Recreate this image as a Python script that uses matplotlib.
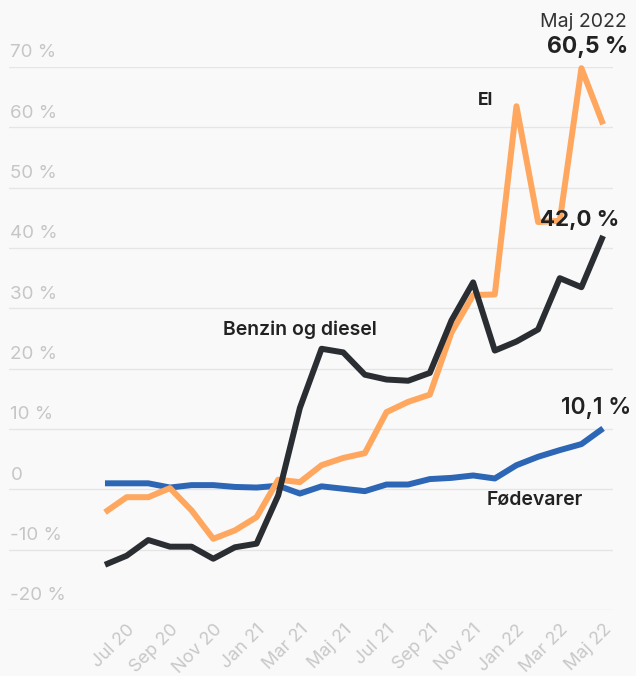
import matplotlib.pyplot as plt
import matplotlib.transforms as mtransforms

plt.rcParams['font.family'] = ['Inter', 'DejaVu Sans']

# monthly values, Jun 2020 .. May 2022
months = ['Jun 20', 'Jul 20', 'Aug 20', 'Sep 20', 'Okt 20', 'Nov 20', 'Dec 20',
          'Jan 21', 'Feb 21', 'Mar 21', 'Apr 21', 'Maj 21', 'Jun 21', 'Jul 21',
          'Aug 21', 'Sep 21', 'Okt 21', 'Nov 21', 'Dec 21', 'Jan 22', 'Feb 22',
          'Mar 22', 'Apr 22', 'Maj 22']

el = [-3.8, -1.3, -1.3, 0.2, -3.5, -8.2, -6.8, -4.6, 1.6, 1.2, 4.0, 5.2,
      6.0, 12.8, 14.5, 15.7, 26.0, 32.2, 32.3, 63.5, 44.3, 44.5, 69.8, 60.5]
benzin = [-12.5, -11.0, -8.4, -9.5, -9.5, -11.5, -9.6, -9.0, -1.0, 13.5, 23.3, 22.7,
          19.0, 18.2, 18.0, 19.3, 28.0, 34.3, 23.0, 24.5, 26.5, 35.0, 33.5, 42.0]
foedevarer = [1.0, 1.0, 1.0, 0.3, 0.7, 0.7, 0.4, 0.3, 0.6, -0.7, 0.5, 0.1,
              -0.3, 0.8, 0.8, 1.7, 1.9, 2.3, 1.8, 4.0, 5.4, 6.5, 7.5, 10.1]

yticks = [-20, -10, 0, 10, 20, 30, 40, 50, 60, 70]
ytick_labels = ['-20 %', '-10 %', '0', '10 %', '20 %', '30 %', '40 %', '50 %', '60 %', '70 %']

bg = '#f9f9f9'
c_el = '#ffa75e'
c_benzin = '#2a2e33'
c_food = '#2d66b5'

fig = plt.figure(figsize=(6.36, 6.76), dpi=100, facecolor=bg)
ax = fig.add_axes([0.0142, 0.0976, 0.9497, 0.8033], facecolor=bg)

x = list(range(len(months)))
kw = dict(lw=4.3, solid_joinstyle='round', solid_capstyle='butt', clip_on=False)
ax.plot(x, foedevarer, color=c_food, **kw)
ax.plot(x, el, color=c_el, **kw)
ax.plot(x, benzin, color=c_benzin, **kw)

ax.set_xlim(-4.43, 23.46)
ax.set_ylim(-20, 70)
ax.set_yticks(yticks)
ax.set_yticklabels([])
ax.grid(axis='y', color='#e5e5e5', lw=1)
ax.set_axisbelow(True)
for s in ax.spines.values():
    s.set_visible(False)
ax.tick_params(length=0)

# y labels sit above the gridlines, inside the plot
trans = mtransforms.blended_transform_factory(ax.transAxes, ax.transData)
for v, lab in zip(yticks, ytick_labels):
    ax.annotate(lab, xy=(0, v), xycoords=trans, xytext=(1, 7), textcoords='offset points',
                ha='left', va='baseline', fontsize=13.5, color='#c6c6c6')

xt = list(range(1, len(months), 2))
ax.set_xticks(xt)
ax.set_xticklabels([months[i] for i in xt], rotation=45, ha='right',
                   rotation_mode='anchor', fontsize=13, color='#c8c8c8')
ax.tick_params(axis='x', pad=8)

# annotations
ax.text(22.1, 77.4, 'Maj 2022', ha='center', va='center', fontsize=14, color='#333333')
ax.text(22.3, 73.3, '60,5 %', ha='center', va='center', fontsize=16.5, fontweight='bold',
        color='#222222')
ax.text(17.55, 64.5, 'El', ha='center', va='center', fontsize=12.5, fontweight='bold',
        color='#222222')
ax.text(23.75, 44.6, '42,0 %', ha='right', va='center', fontsize=16, fontweight='bold',
        color='#222222')
ax.text(22.7, 13.4, '10,1 %', ha='center', va='center', fontsize=16.5, fontweight='semibold',
        color='#222222')
ax.text(9.0, 26.5, 'Benzin og diesel', ha='center', va='center', fontsize=14,
        fontweight='semibold', color='#222222')
ax.text(19.86, -1.8, 'Fødevarer', ha='center', va='center', fontsize=14,
        fontweight='semibold', color='#222222')

fig.savefig('out.png', dpi=100, facecolor=bg)
